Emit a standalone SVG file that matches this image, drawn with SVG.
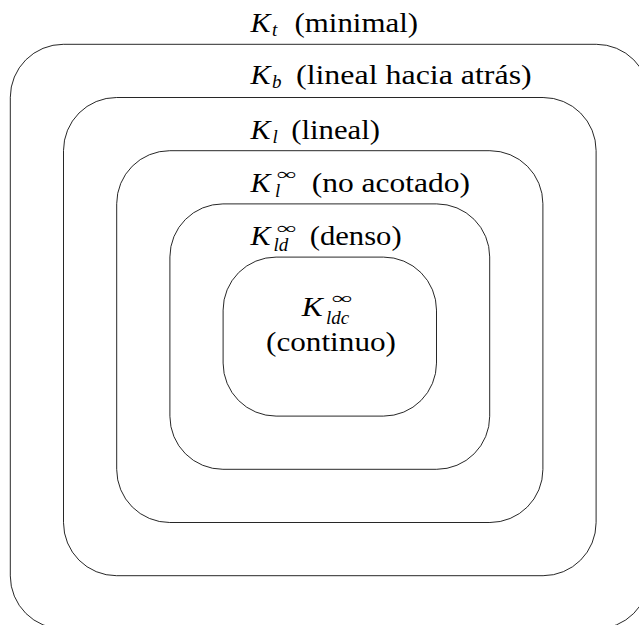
<svg xmlns="http://www.w3.org/2000/svg" width="639" height="625" viewBox="0 0 639 625">
<style>
.box{fill:none;stroke:#000;stroke-width:0.85}
.lbl text{font-family:"Liberation Serif","Tinos","Noto Serif","DejaVu Serif","Times New Roman",Times,serif;font-size:27px;fill:#000}
.lbl .it{font-style:italic}
.lbl .sc{font-size:19px}
.lbl .inf{font-size:17px}
</style>
<rect width="639" height="625" fill="#fff"/>
<g class="lbl">
<g id="Kt">
<rect class="box" x="10.3" y="44.3" width="639" height="584.6" rx="53" ry="53"/>
<text class="it" x="250.5" y="31.7" textLength="20" lengthAdjust="spacingAndGlyphs">K</text>
<text class="it sc" x="272" y="35.5">t</text>
<text x="294.5" y="31.7" textLength="123.5" lengthAdjust="spacingAndGlyphs">(minimal)</text>
</g>
<g id="Kb">
<rect class="box" x="63.5" y="97.5" width="532.6" height="478.2" rx="53" ry="53"/>
<text class="it" x="250.5" y="84" textLength="20" lengthAdjust="spacingAndGlyphs">K</text>
<text class="it sc" x="272" y="88">b</text>
<text x="296" y="84" textLength="235.7" lengthAdjust="spacingAndGlyphs">(lineal hacia atrás)</text>
</g>
<g id="Kl">
<rect class="box" x="116.7" y="150.7" width="426.2" height="371.8" rx="53" ry="53"/>
<text class="it" x="250.5" y="138.5" textLength="20" lengthAdjust="spacingAndGlyphs">K</text>
<text class="it sc" x="272.5" y="142.5">l</text>
<text x="291.3" y="138.5" textLength="88.7" lengthAdjust="spacingAndGlyphs">(lineal)</text>
</g>
<g id="Kl-inf">
<rect class="box" x="169.9" y="203.9" width="319.8" height="265.4" rx="53" ry="53"/>
<text class="it" x="250.5" y="191.5" textLength="20" lengthAdjust="spacingAndGlyphs">K</text>
<text class="inf" x="277" y="180" textLength="20" lengthAdjust="spacingAndGlyphs">∞</text>
<text class="it sc" x="275" y="196.5">l</text>
<text x="311.7" y="191.5" textLength="158.3" lengthAdjust="spacingAndGlyphs">(no acotado)</text>
</g>
<g id="Kld-inf">
<rect class="box" x="223.1" y="257.1" width="213.4" height="159" rx="53" ry="53"/>
<text class="it" x="250.5" y="244.5" textLength="20" lengthAdjust="spacingAndGlyphs">K</text>
<text class="inf" x="277" y="234" textLength="20" lengthAdjust="spacingAndGlyphs">∞</text>
<text class="it sc" x="273.5" y="251">ld</text>
<text x="309.7" y="244.5" textLength="92" lengthAdjust="spacingAndGlyphs">(denso)</text>
</g>
<g id="Kldc-inf">
<text class="it" x="301.7" y="316" textLength="21" lengthAdjust="spacingAndGlyphs">K</text>
<text class="inf" x="332" y="304" textLength="21" lengthAdjust="spacingAndGlyphs">∞</text>
<text class="it sc" x="326" y="324">ldc</text>
<text x="266" y="350.5" textLength="130" lengthAdjust="spacingAndGlyphs">(continuo)</text>
</g>
</g>
<g id="connectors"/>
</svg>
